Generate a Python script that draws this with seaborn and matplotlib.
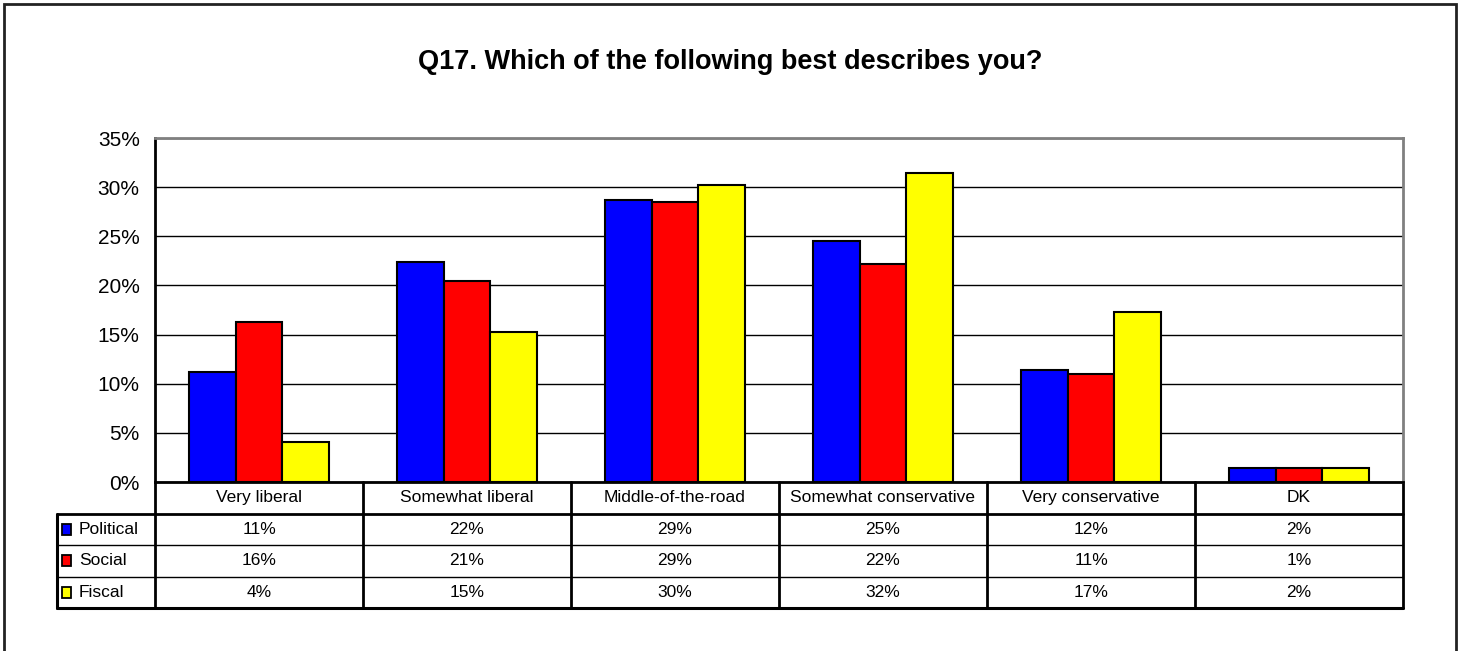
import pandas as pd
import numpy as np
import matplotlib.pyplot as plt
import matplotlib.transforms as mtransforms
from matplotlib.patches import Rectangle
from matplotlib.lines import Line2D
import seaborn as sns

# Survey answers (bar heights in %)
categories = ["Very liberal", "Somewhat liberal", "Middle-of-the-road",
              "Somewhat conservative", "Very conservative", "DK"]
series_names = ["Political", "Social", "Fiscal"]
political = [11.2, 22.4, 28.7, 24.5, 11.4, 1.4]
social = [16.3, 20.5, 28.5, 22.2, 11.0, 1.4]
fiscal = [4.1, 15.3, 30.2, 31.4, 17.3, 1.4]

# Labels printed in the data table under the chart
political_table = ["11%", "22%", "29%", "25%", "12%", "2%"]
social_table = ["16%", "21%", "29%", "22%", "11%", "1%"]
fiscal_table = ["4%", "15%", "30%", "32%", "17%", "2%"]

colors = ["#0000FF", "#FF0000", "#FFFF00"]
y_ticks = [0, 5, 10, 15, 20, 25, 30, 35]

df = pd.DataFrame({
    "category": categories * 3,
    "series": np.repeat(series_names, len(categories)),
    "value": political + social + fiscal,
})

sns.set_style("white")
plt.rcParams['font.family'] = ['Liberation Sans', 'DejaVu Sans']
plt.rcParams['text.color'] = 'black'
plt.rcParams['ytick.color'] = 'black'
plt.rcParams['xtick.color'] = 'black'

fig = plt.figure(figsize=(14.61, 6.51), dpi=100)
ax = fig.add_axes([155 / 1461, 1 - 482 / 651, 1248 / 1461, 344 / 651])

sns.barplot(data=df, x="category", y="value", hue="series", order=categories,
            hue_order=series_names, palette=colors, saturation=1, width=0.675,
            edgecolor="black", linewidth=1.5, legend=False, ax=ax)

ax.set_ylim(0, 35)
ax.set_xlim(-0.5, len(categories) - 0.5)
ax.set_yticks(y_ticks)
ax.set_yticklabels([f"{t}%" for t in y_ticks], fontsize=15, color="black")
ax.set_xticks(range(len(categories)))
ax.set_xticklabels([])
ax.tick_params(axis="x", length=0)
ax.tick_params(axis="y", length=7, width=1.5, color="black", pad=4)
ax.set_xlabel("")
ax.set_ylabel("")
ax.yaxis.grid(True, color="black", linewidth=1.0)
ax.set_axisbelow(True)

for side in ["left", "bottom"]:
    ax.spines[side].set_color("black")
    ax.spines[side].set_linewidth(2)
for side in ["top", "right"]:
    ax.spines[side].set_color("#808080")
    ax.spines[side].set_linewidth(2)

fig.text(0.5, 1 - 62 / 651, "Q17. Which of the following best describes you?",
         fontsize=19.5, fontweight="bold", ha="center", va="center",
         color="black")

# ---- data table below the axis ----
blend = mtransforms.blended_transform_factory(ax.transData, ax.transAxes)
row_h = 31.5 / 344
left_col = -98 / 1248
bottom = -4 * row_h


def hline(y, x0, x1, lw):
    ax.add_line(Line2D([x0, x1], [y, y], transform=ax.transAxes, color="black",
                       linewidth=lw, clip_on=False))


def vline(x, y0, y1, lw, trans):
    ax.add_line(Line2D([x, x], [y0, y1], transform=trans, color="black",
                       linewidth=lw, clip_on=False))


hline(-row_h, left_col, 1, 2)
hline(-2 * row_h, left_col, 1, 1)
hline(-3 * row_h, left_col, 1, 1)
hline(bottom, left_col, 1, 2.2)
vline(0, 0, bottom, 2, ax.transAxes)
vline(1, 0, bottom, 2, ax.transAxes)
vline(left_col, -row_h, bottom, 2.2, ax.transAxes)
for k in range(len(categories) - 1):
    vline(k + 0.5, 0, bottom, 2, blend)

for i, cat in enumerate(categories):
    ax.text(i, -row_h / 2, cat, transform=blend, ha="center", va="center",
            fontsize=12.5)

tables = [political_table, social_table, fiscal_table]
for r, (name, col, labels) in enumerate(zip(series_names, colors, tables)):
    yc = -(r + 1.5) * row_h
    ax.add_patch(Rectangle((-93 / 1248, yc - 5.5 / 344), 9 / 1248, 11 / 344,
                           transform=ax.transAxes, facecolor=col,
                           edgecolor="black", linewidth=1.3, clip_on=False))
    ax.text(-76 / 1248, yc, name, transform=ax.transAxes, ha="left",
            va="center", fontsize=12.5)
    for i, lab in enumerate(labels):
        ax.text(i, yc, lab, transform=blend, ha="center", va="center",
                fontsize=12.5)

# outer chart frame
fig.add_artist(Rectangle((4 / 1461, -0.05), 1452 / 1461, 1.05 - 4 / 651,
                         transform=fig.transFigure, fill=False,
                         edgecolor="#222222", linewidth=2))

fig.savefig("out.png", dpi=100)
